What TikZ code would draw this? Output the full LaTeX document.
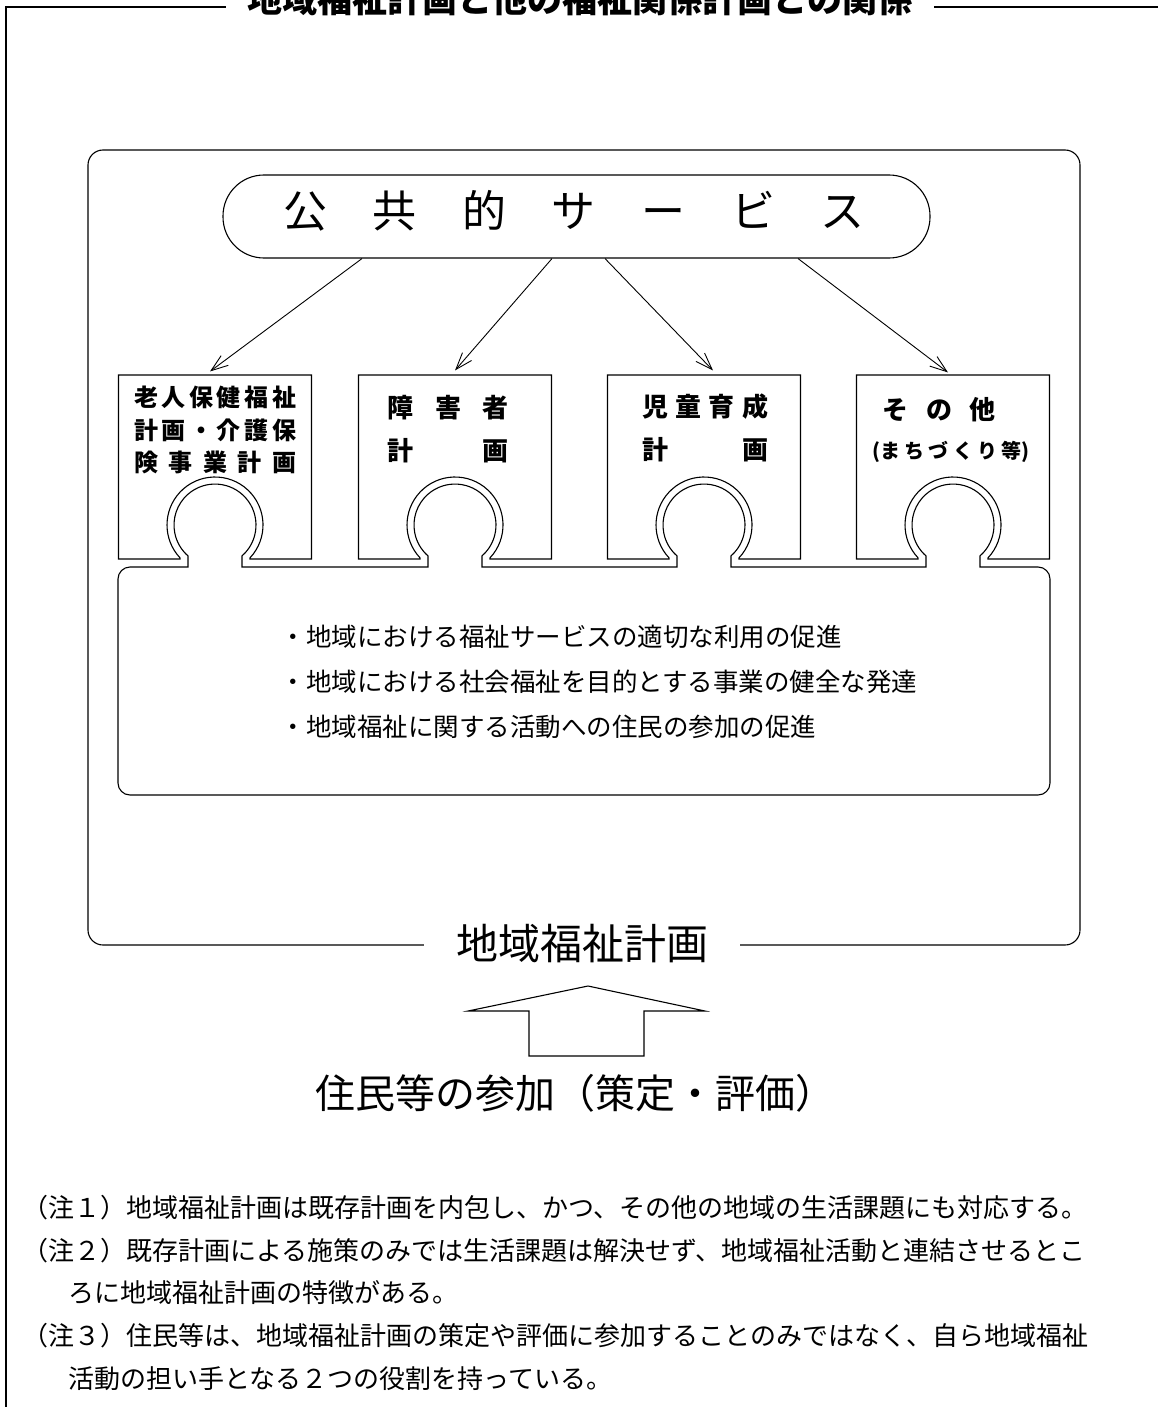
\documentclass[tikz,border=0pt]{standalone}
\usepackage{fontspec}
\newfontfamily\jp{Noto Sans CJK JP}
\usetikzlibrary{arrows.meta,calc}

\begin{document}
\begin{tikzpicture}[x=1pt,y=-1pt,line width=1.1pt,
  arr/.style={-{Straight Barb[length=17pt,width=12pt]},line width=0.9pt},
  lbl/.style={inner sep=0pt,font=\jp\bfseries\fontsize{#1}{#1}\selectfont},
  bul/.style={anchor=west,inner sep=0pt,font=\jp\fontsize{25.5}{26}\selectfont},
  note/.style={anchor=west,inner sep=0pt,font=\jp\fontsize{26}{27}\selectfont},
  pbox/.style={minimum width=193pt,minimum height=184pt,inner sep=0pt}]
\useasboundingbox (0,0) rectangle (1158,1407);

% outer frame and title
\draw (6,1420) -- (6,7) -- (1170,7);
\node[fill=white,inner xsep=22pt,inner ysep=0pt,font=\jp\bfseries\fontsize{35}{36}\selectfont] (ttl) at (580,-1) {地域福祉計画と他の福祉関係計画との関係};

% frame of the plan
\node[draw,rounded corners=15pt,minimum width=992pt,minimum height=795pt,inner sep=0pt] (area) at (584,547.5) {};
\node[fill=white,inner xsep=32pt,inner ysep=0pt,font=\jp\fontsize{42}{44}\selectfont] (plan) at (582,944) {地域福祉計画};

% public services
\node[draw,rounded corners=41pt,minimum width=707pt,minimum height=83pt,inner sep=0pt] (svc) at (576.5,216.5) {};
\node[inner sep=0pt,font=\jp\fontsize{44}{46}\selectfont] (svct) at (574,211) {\makebox[582pt][s]{公\hfil 共\hfil 的\hfil サ\hfil ー\hfil ビ\hfil ス}};

% plan pieces
\node[pbox] (box1) at (215,467) {};
\node[pbox] (box2) at (455,467) {};
\node[pbox] (box3) at (704,467) {};
\node[pbox] (box4) at (953,467) {};
\draw (118.5,559) -- (118.5,375) -- (311.5,375) -- (311.5,559) -- (250,559) -- (250,557.85) arc[start angle=43.2,end angle=-223.2,radius=48] -- (180,559) -- cycle;
\draw (358.5,559) -- (358.5,375) -- (551.5,375) -- (551.5,559) -- (490,559) -- (490,557.85) arc[start angle=43.2,end angle=-223.2,radius=48] -- (420,559) -- cycle;
\draw (607.5,559) -- (607.5,375) -- (800.5,375) -- (800.5,559) -- (739,559) -- (739,557.85) arc[start angle=43.2,end angle=-223.2,radius=48] -- (669,559) -- cycle;
\draw (856.5,559) -- (856.5,375) -- (1049.5,375) -- (1049.5,559) -- (988,559) -- (988,557.85) arc[start angle=43.2,end angle=-223.2,radius=48] -- (918,559) -- cycle;

% base piece with knobs
\draw (188,567) -- (130,567) arc[start angle=270,end angle=180,radius=12] -- (118,783) arc[start angle=180,end angle=90,radius=12]
  -- (1038,795) arc[start angle=90,end angle=0,radius=12] -- (1050,579) arc[start angle=0,end angle=-90,radius=12]
  -- (980,567) -- (980,555.9) arc[start angle=48.8,end angle=-228.8,radius=41] -- (926,567)
  -- (731,567) -- (731,555.9) arc[start angle=48.8,end angle=-228.8,radius=41] -- (677,567)
  -- (482,567) -- (482,555.9) arc[start angle=48.8,end angle=-228.8,radius=41] -- (428,567)
  -- (242,567) -- (242,555.9) arc[start angle=48.8,end angle=-228.8,radius=41] -- cycle;

\node[lbl=24] (t11) at (215,397) {\makebox[162pt][s]{老\hfil 人\hfil 保\hfil 健\hfil 福\hfil 祉}};
\node[lbl=24] (t12) at (215,430) {\makebox[162pt][s]{計\hfil 画\hfil ・\hfil 介\hfil 護\hfil 保}};
\node[lbl=24] (t13) at (215,462) {\makebox[162pt][s]{険\hfil 事\hfil 業\hfil 計\hfil 画}};
\node[lbl=26] (t21) at (448,408) {\makebox[122pt][s]{障\hfil 害\hfil 者}};
\node[lbl=26] (t22) at (448,451) {\makebox[122pt][s]{計\hfil 画}};
\node[lbl=26] (t31) at (705,407) {\makebox[126pt][s]{児\hfil 童\hfil 育\hfil 成}};
\node[lbl=26] (t32) at (705,450) {\makebox[126pt][s]{計\hfil 画}};
\node[lbl=26] (t41) at (939,410) {\makebox[114pt][s]{そ\hfil の\hfil 他}};
\node[lbl=20] (t42) at (951,452) {\makebox[157pt][s]{(ま\hfil ち\hfil づ\hfil く\hfil り\hfil 等)}};

\draw[arr] ($(svc.south)+(-214.5,0)$) -- ($(box1.north)+(-5,-3)$);
\draw[arr] ($(svc.south)+(-24.5,0)$) -- ($(box2.north)+(0,-4)$);
\draw[arr] ($(svc.south)+(28.5,0)$) -- ($(box3.north)+(9,-4)$);
\draw[arr] ($(svc.south)+(221.5,0)$) -- ($(box4.north)+(-5,-2)$);

\node[bul] (g1) at (280,637) {・地域における福祉サービスの適切な利用の促進};
\node[bul] (g2) at (280,682) {・地域における社会福祉を目的とする事業の健全な発達};
\node[bul] (g3) at (280,727) {・地域福祉に関する活動への住民の参加の促進};

% participation
\draw (588,986) -- (705,1011) -- (644,1011) -- (644,1056) -- (529,1056) -- (529,1011) -- (468,1011) -- cycle;
\node[inner sep=0pt,font=\jp\fontsize{40}{42}\selectfont] (part) at (575,1093) {住民等の参加（策定・評価）};

% notes
\node[note] (n1) at (22,1208) {（注１）地域福祉計画は既存計画を内包し、かつ、その他の地域の生活課題にも対応する。};
\node[note] (n2) at (22,1251) {（注２）既存計画による施策のみでは生活課題は解決せず、地域福祉活動と連結させるとこ};
\node[note] (n3) at (68,1293) {ろに地域福祉計画の特徴がある。};
\node[note] (n4) at (22,1336) {（注３）住民等は、地域福祉計画の策定や評価に参加することのみではなく、自ら地域福祉};
\node[note] (n5) at (68,1379) {活動の担い手となる２つの役割を持っている。};

\end{tikzpicture}
\end{document}
